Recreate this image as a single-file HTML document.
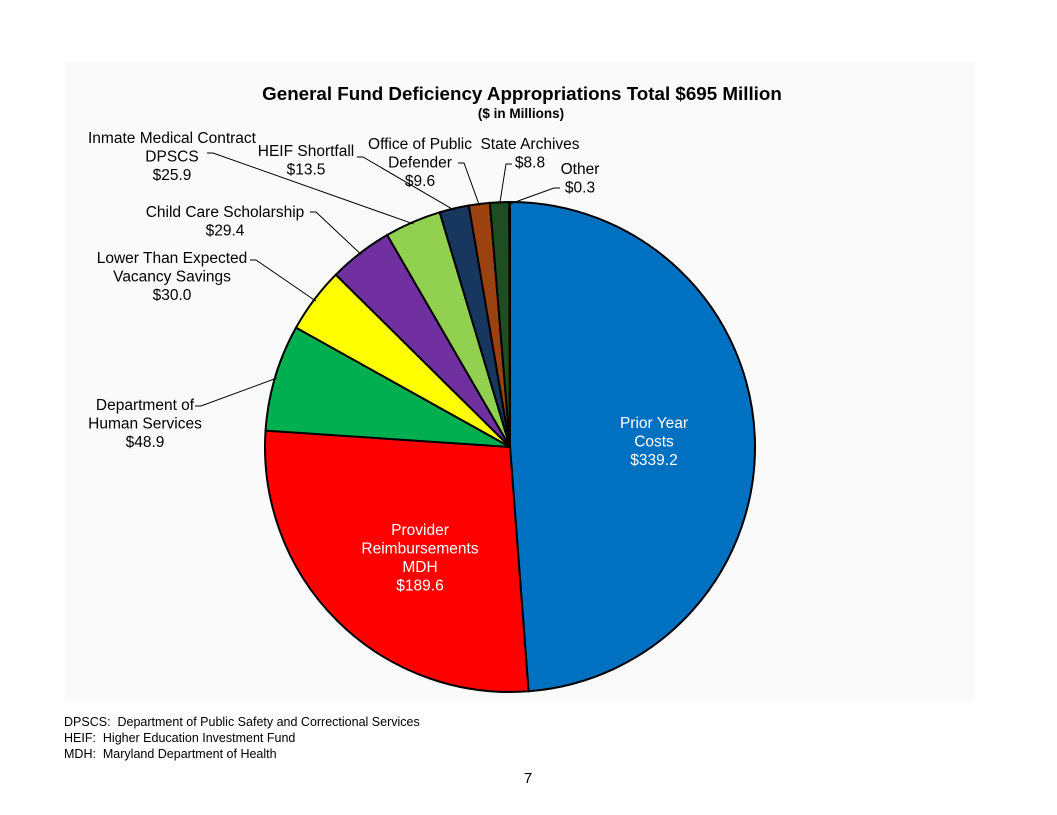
<!DOCTYPE html>
<html><head><meta charset="utf-8"><style>
html,body{margin:0;padding:0;background:#fff;}
svg{display:block;font-family:"Liberation Sans",Arial,sans-serif;}
</style></head><body>
<svg id="chart" width="1057" height="815" viewBox="0 0 1057 815">
<rect x="0" y="0" width="1057" height="815" fill="#fff"/>
<rect x="65" y="62" width="910" height="640" fill="#fafafa"/>
<text x="522" y="100" text-anchor="middle" font-size="18.8" font-weight="bold">General Fund Deficiency Appropriations Total $695 Million</text>
<text x="521" y="118" text-anchor="middle" font-size="13.5" font-weight="bold">($ in Millions)</text>
<g id="slices"></g>
<g id="labels" font-size="15.5"></g>
<g font-size="12.5">
<text xml:space="preserve" x="64" y="726">DPSCS:  Department of Public Safety and Correctional Services</text>
<text xml:space="preserve" x="64" y="742">HEIF:  Higher Education Investment Fund</text>
<text xml:space="preserve" x="64" y="758">MDH:  Maryland Department of Health</text>
</g>
<text x="528" y="783" text-anchor="middle" font-size="15">7</text>
</svg>
<script>
const categories = ["Prior Year Costs","Provider Reimbursements MDH","Department of Human Services","Lower Than Expected Vacancy Savings","Child Care Scholarship","Inmate Medical Contract DPSCS","HEIF Shortfall","Office of Public Defender","State Archives","Other"];
const values = [339.2,189.6,48.9,30.0,29.4,25.9,13.5,9.6,8.8,0.3];
const valueLabels = ["$339.2","$189.6","$48.9","$30.0","$29.4","$25.9","$13.5","$9.6","$8.8","$0.3"];
const colors = ["#0070c0","#ff0000","#00b050","#ffff00","#7030a0","#92d050","#17375e","#9c4110","#1e4d22","#4a7a30"];
const cx=510, cy=447, r=245;
const NS="http://www.w3.org/2000/svg";
const total=values.reduce((a,b)=>a+b,0);
function pt(a,rr){return [cx+rr*Math.sin(a), cy-rr*Math.cos(a)];}
const sg=document.getElementById('slices');
const lg=document.getElementById('labels');
let acc=0; const mids=[];
values.forEach((v,i)=>{
  const a0=acc/total*2*Math.PI; acc+=v; const a1=acc/total*2*Math.PI;
  mids.push((a0+a1)/2);
  const p0=pt(a0,r), p1=pt(a1,r);
  const large=(a1-a0)>Math.PI?1:0;
  const p=document.createElementNS(NS,'path');
  p.setAttribute('d',`M${cx},${cy} L${p0[0]},${p0[1]} A${r},${r} 0 ${large} 1 ${p1[0]},${p1[1]} Z`);
  p.setAttribute('fill',colors[i]); p.setAttribute('stroke','#000'); p.setAttribute('stroke-width','2');
  
  
  sg.appendChild(p);
});
const layout=[
 [["Prior Year","Costs"],654,428,null,null,"#fff"],
 [["Provider","Reimbursements","MDH"],420,535,null,null,"#fff"],
 [["Department of","Human Services"],145,410,195,406,"#000"],
 [["Lower Than Expected","Vacancy Savings"],172,263,250,260,"#000"],
 [["Child Care Scholarship"],225,217,310,212,"#000"],
 [["Inmate Medical Contract","DPSCS"],172,143,207,153,"#000"],
 [["HEIF Shortfall"],306,156,357,157,"#000"],
 [["Office of Public","Defender"],420,149,458,163,"#000"],
 [["State Archives"],530,149,512,164,"#000"],
 [["Other"],580,174,560,188,"#000"]
];
layout.forEach((L,i)=>{
  const g=document.createElementNS(NS,'g');
  
  
  const lines=L[0].concat([valueLabels[i]]);
  lines.forEach((s,k)=>{
    const t=document.createElementNS(NS,'text');
    t.setAttribute('x',L[1]); t.setAttribute('y',L[2]+k*18.5);
    t.setAttribute('text-anchor','middle'); t.setAttribute('fill',L[5]);
    t.textContent=s; g.appendChild(t);
  });
  if(L[3]!==null){
    const e=pt(mids[i],r-2);
    const ln=document.createElementNS(NS,'polyline');
    ln.setAttribute('points',`${L[3]},${L[4]} ${L[3]+(e[0]>L[3]?6:-6)},${L[4]} ${e[0]},${e[1]}`);
    ln.setAttribute('fill','none'); ln.setAttribute('stroke','#000'); ln.setAttribute('stroke-width','1');
    
    
    g.appendChild(ln);
  }
  lg.appendChild(g);
});
</script>
</body></html>
